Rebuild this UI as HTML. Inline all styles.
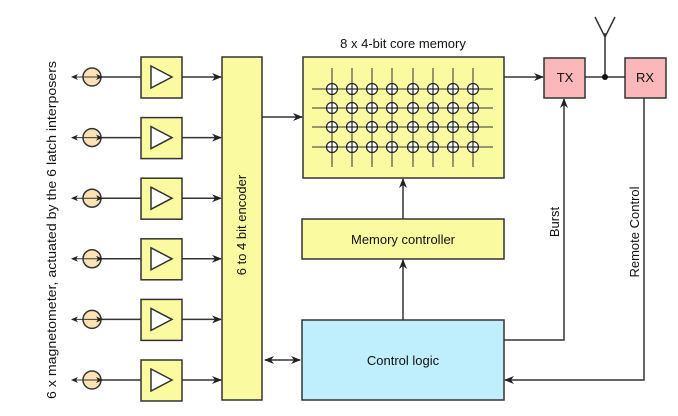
<!DOCTYPE html>
<html><head><meta charset="utf-8"><style>
html,body{margin:0;padding:0;background:#fff}
svg{display:block;font-family:"Liberation Sans",sans-serif}
</style></head><body>
<svg width="678" height="416" viewBox="0 0 678 416" xmlns="http://www.w3.org/2000/svg" xmlns:xlink="http://www.w3.org/1999/xlink">
<defs>
<marker id="a" markerWidth="10" markerHeight="8" refX="9" refY="4" orient="auto" markerUnits="userSpaceOnUse">
<path d="M0,0 L10,4 L0,8 L3,4 Z" fill="#222"/></marker>
<marker id="s" markerWidth="10" markerHeight="8" refX="1" refY="4" orient="auto" markerUnits="userSpaceOnUse">
<path d="M10,0 L0,4 L10,8 L7,4 Z" fill="#222"/></marker>
<marker id="sa" markerWidth="7" markerHeight="6" refX="6" refY="3" orient="auto" markerUnits="userSpaceOnUse">
<path d="M0,0 L7,3 L0,6 L2,3 Z" fill="#222"/></marker>
<marker id="ss" markerWidth="7" markerHeight="6" refX="1" refY="3" orient="auto" markerUnits="userSpaceOnUse">
<path d="M7,0 L0,3 L7,6 L5,3 Z" fill="#222"/></marker>
<g id="c" fill="#fff" stroke="#222" stroke-width="1.2"><circle cx="0" cy="0" r="5.5"/><line x1="-5.5" y1="0" x2="5.5" y2="0"/><line x1="0" y1="-5.5" x2="0" y2="5.5"/></g>
<g id="cr"><use xlink:href="#c" href="#c" x="332"/><use xlink:href="#c" href="#c" x="352"/><use xlink:href="#c" href="#c" x="372"/><use xlink:href="#c" href="#c" x="392"/><use xlink:href="#c" href="#c" x="413"/><use xlink:href="#c" href="#c" x="433"/><use xlink:href="#c" href="#c" x="453"/><use xlink:href="#c" href="#c" x="473"/></g>
<g id="row" stroke="#333" stroke-width="1.5">
<line x1="101" y1="77" x2="141" y2="77"/><circle cx="92" cy="77" r="9" fill="#fbe3b5"/><line x1="72" y1="77" x2="102" y2="77" stroke-width="1" marker-start="url(#ss)" marker-end="url(#sa)"/><rect x="141" y="57" width="41" height="41" fill="#fafaa0"/><path d="M151,66 L172,77 L151,88 Z" fill="#fff"/><line x1="182" y1="77" x2="221" y2="77" marker-end="url(#a)"/>
</g>
</defs>
<text transform="translate(56,230) rotate(-90)" text-anchor="middle" font-size="13" fill="#111" textLength="338" lengthAdjust="spacingAndGlyphs">6 x magnetometer, actuated by  the 6 latch interposers</text>
<use xlink:href="#row" href="#row"/>
<use xlink:href="#row" href="#row" y="60.6"/>
<use xlink:href="#row" href="#row" y="121.2"/>
<use xlink:href="#row" href="#row" y="181.8"/>
<use xlink:href="#row" href="#row" y="242.4"/>
<use xlink:href="#row" href="#row" y="303"/>
<g stroke="#333" stroke-width="1.5">
<rect x="222" y="57" width="40" height="343" fill="#fafaa0"/>
<line x1="262" y1="117" x2="302" y2="117" marker-end="url(#a)"/>
<line x1="265" y1="360" x2="300" y2="360" marker-start="url(#s)" marker-end="url(#a)"/>
<rect x="303" y="57" width="201" height="121" fill="#fafaa0"/>
<g stroke-width="1">
<line x1="312" y1="89" x2="493" y2="89"/><line x1="312" y1="108" x2="493" y2="108"/><line x1="312" y1="127" x2="493" y2="127"/><line x1="312" y1="147" x2="493" y2="147"/>
<line x1="332" y1="68" x2="332" y2="167"/><line x1="352" y1="68" x2="352" y2="167"/><line x1="372" y1="68" x2="372" y2="167"/><line x1="392" y1="68" x2="392" y2="167"/><line x1="413" y1="68" x2="413" y2="167"/><line x1="433" y1="68" x2="433" y2="167"/><line x1="453" y1="68" x2="453" y2="167"/><line x1="473" y1="68" x2="473" y2="167"/>
</g>
<line x1="504" y1="77" x2="543" y2="77" marker-end="url(#a)"/>
<rect x="302" y="219" width="202" height="40" fill="#fafaa0"/>
<rect x="302" y="320" width="202" height="80" fill="#bfeefc"/>
<line x1="403" y1="320" x2="403" y2="260" marker-end="url(#a)"/>
<line x1="403" y1="219" x2="403" y2="179" marker-end="url(#a)"/>
<rect x="544" y="58" width="41" height="40" fill="#fbb7b9"/>
<rect x="625" y="58" width="41" height="40" fill="#fbb7b9"/>
<line x1="585" y1="77" x2="625" y2="77"/>
<line x1="605" y1="77" x2="605" y2="33"/>
<path d="M595,17 L605,37 L615,17" fill="none"/>
<polyline points="504,340 564,340 564,99" fill="none" marker-end="url(#a)"/>
<polyline points="644,98 644,380 505,380" fill="none" marker-end="url(#a)"/>
</g>
<circle cx="605" cy="77" r="3" fill="#111"/>
<use xlink:href="#cr" href="#cr" y="89"/>
<use xlink:href="#cr" href="#cr" y="108"/>
<use xlink:href="#cr" href="#cr" y="127"/>
<use xlink:href="#cr" href="#cr" y="147"/>
<g font-size="13" fill="#111" text-anchor="middle">
<text x="403" y="48">8 x 4-bit core memory</text>
<text x="403" y="244">Memory controller</text>
<text x="403" y="365">Control logic</text>
<text x="565" y="82">TX</text>
<text x="645" y="82">RX</text>
<text transform="translate(246,225) rotate(-90)">6 to 4 bit encoder</text>
<text transform="translate(559,222) rotate(-90)">Burst</text>
<text transform="translate(639,232) rotate(-90)">Remote Control</text>
</g>
</svg>
</body></html>
